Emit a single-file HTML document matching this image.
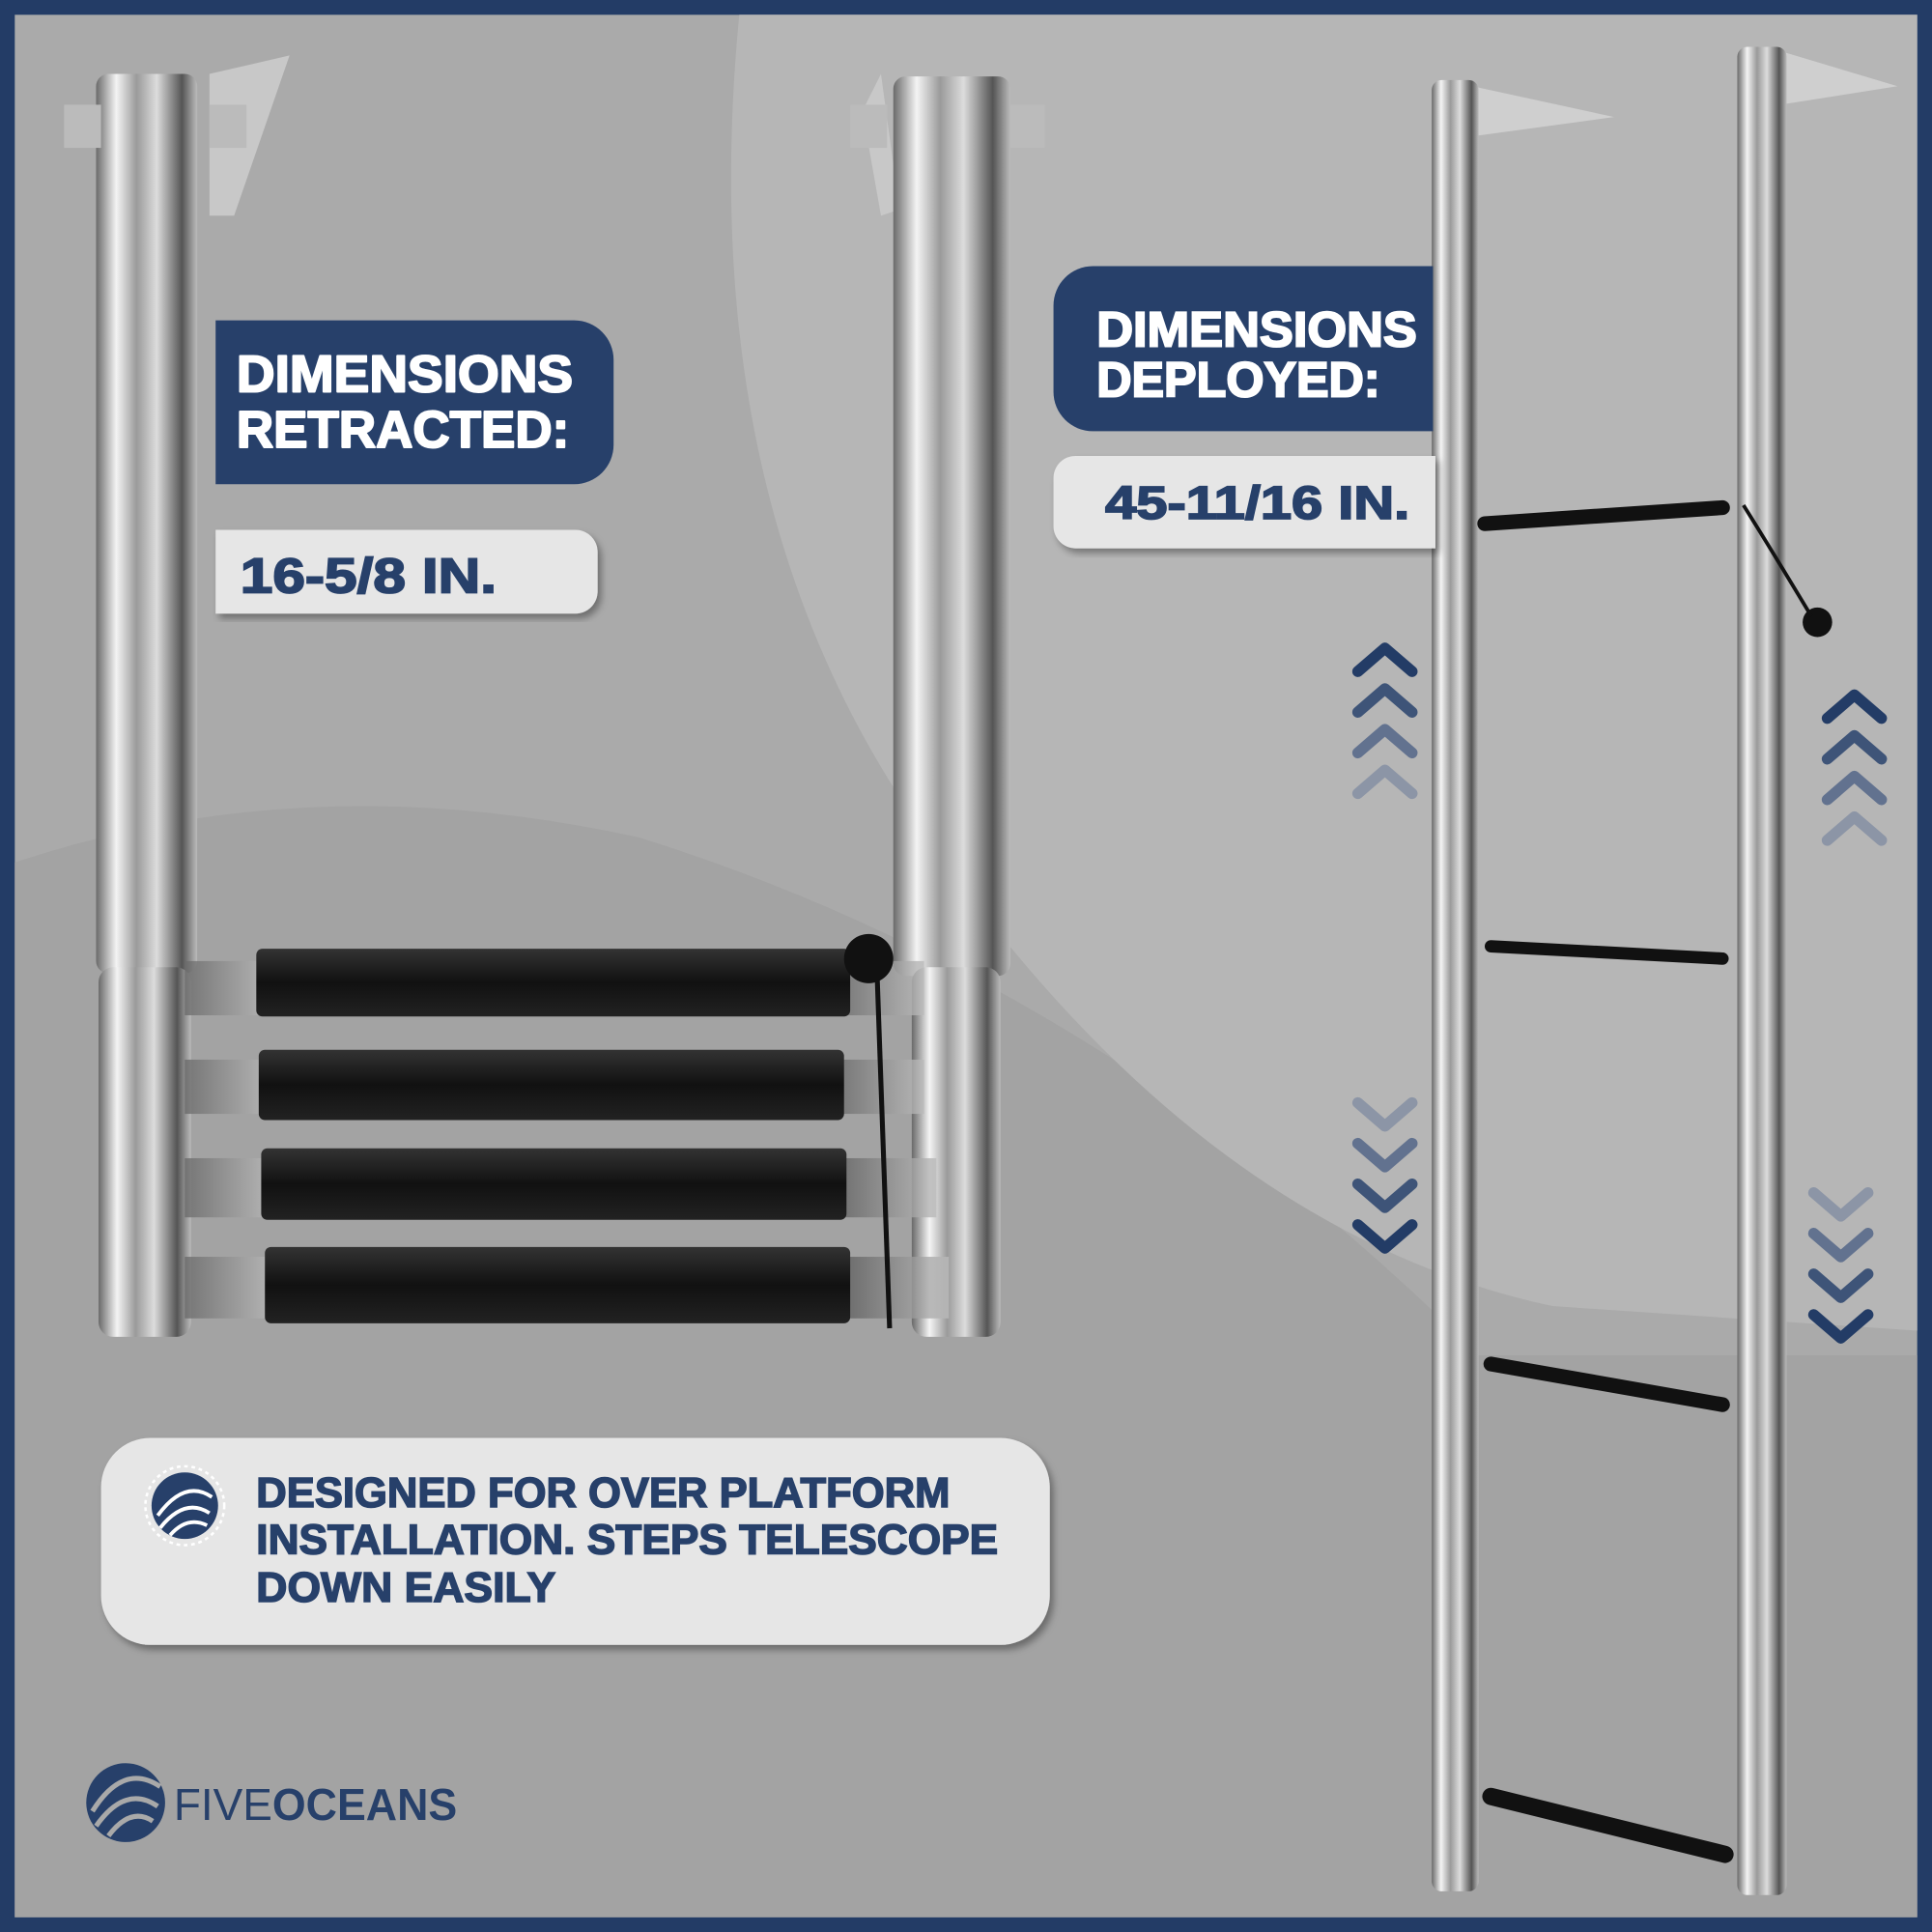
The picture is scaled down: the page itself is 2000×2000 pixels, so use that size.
<!DOCTYPE html>
<html><head><meta charset="utf-8"><style>html,body{margin:0;padding:0;background:#233c66}svg{display:block}</style></head>
<body>
<svg width="2000" height="2000" viewBox="0 0 1568 1568" xmlns="http://www.w3.org/2000/svg" font-family="Liberation Sans, sans-serif">
<defs>
<linearGradient id="m" x1="0" x2="1" y1="0" y2="0">
<stop offset="0" stop-color="#6a6a6a"/><stop offset="0.2" stop-color="#f4f4f4"/><stop offset="0.4" stop-color="#9a9a9a"/><stop offset="0.6" stop-color="#dcdcdc"/><stop offset="0.85" stop-color="#555"/><stop offset="1" stop-color="#bbb"/>
</linearGradient>
<linearGradient id="s" x1="0" x2="0" y1="0" y2="1">
<stop offset="0" stop-color="#333"/><stop offset="0.5" stop-color="#111"/><stop offset="1" stop-color="#222"/>
</linearGradient>
<filter id="sh"><feDropShadow dx="3" dy="4" stdDeviation="3" flood-opacity="0.35"/></filter>
</defs>
<rect x="0" y="0" width="1568" height="1568" fill="#233c66"/>
<rect x="12" y="12" width="1544" height="1544" fill="#aaaaaa"/>
<path d="M12 700 Q250 620 520 680 Q900 800 1200 1100 L1556 1100 L1556 1556 L12 1556 Z" fill="#a3a3a3"/>
<path d="M600 12 Q560 420 760 690 Q980 1000 1260 1060 L1556 1080 L1556 12 Z" fill="#b6b6b6"/>
<!-- left ladder -->
<g>
<polygon points="170,60 235,45 190,175 170,175" fill="#c8c8c8"/>
<polygon points="700,90 715,60 730,170 715,175" fill="#c8c8c8"/>
<rect x="78" y="60" width="82" height="730" rx="10" fill="url(#m)"/>
<rect x="725" y="62" width="95" height="730" rx="10" fill="url(#m)"/>
<rect x="52" y="85" width="30" height="35" fill="#bbb"/><rect x="170" y="85" width="30" height="35" fill="#bbb"/>
<rect x="690" y="85" width="30" height="35" fill="#bbb"/><rect x="820" y="85" width="28" height="35" fill="#bbb"/>
<rect x="80" y="785" width="75" height="300" rx="12" fill="url(#m)"/>
<rect x="740" y="785" width="72" height="300" rx="12" fill="url(#m)"/>
<rect x="150" y="780" width="600" height="44" fill="url(#m)" opacity="0.8"/>
<rect x="150" y="860" width="600" height="44" fill="url(#m)" opacity="0.8"/>
<rect x="150" y="940" width="610" height="48" fill="url(#m)" opacity="0.8"/>
<rect x="150" y="1020" width="620" height="50" fill="url(#m)" opacity="0.8"/>
<rect x="208" y="770" width="482" height="55" rx="5" fill="url(#s)"/>
<rect x="210" y="852" width="475" height="57" rx="5" fill="url(#s)"/>
<rect x="212" y="932" width="475" height="58" rx="5" fill="url(#s)"/>
<rect x="215" y="1012" width="475" height="62" rx="5" fill="url(#s)"/>
<circle cx="705" cy="778" r="20" fill="#111"/>
<path d="M712 795 L722 1078" stroke="#111" stroke-width="4"/>
</g>
<!-- right ladder -->
<g>
<polygon points="1195,70 1310,95 1200,110" fill="#cfcfcf"/>
<polygon points="1440,40 1540,70 1445,85" fill="#cfcfcf"/>
<rect x="1162" y="65" width="38" height="1470" rx="8" fill="url(#m)"/>
<rect x="1410" y="38" width="40" height="1500" rx="8" fill="url(#m)"/>
<path d="M1205 425 L1398 412" stroke="#111" stroke-width="12" stroke-linecap="round"/>
<path d="M1210 768 L1398 778" stroke="#111" stroke-width="10" stroke-linecap="round"/>
<path d="M1210 1107 L1398 1140" stroke="#111" stroke-width="12" stroke-linecap="round"/>
<path d="M1210 1458 L1400 1505" stroke="#111" stroke-width="14" stroke-linecap="round"/>
<circle cx="1475" cy="505" r="12" fill="#111"/>
<path d="M1415 410 Q1440 450 1470 500" stroke="#111" stroke-width="3" fill="none"/>
</g>
<!-- chevrons -->
<g fill="none" stroke-width="9" stroke-linecap="round" stroke-linejoin="round">
<path d="M1102 545 L1124 526 L1146 545" stroke="#233c66"/>
<path d="M1102 578 L1124 559 L1146 578" stroke="#3e5478"/>
<path d="M1102 611 L1124 592 L1146 611" stroke="#62728f"/>
<path d="M1102 644 L1124 625 L1146 644" stroke="#8c95a6"/>
<path d="M1483 583 L1505 564 L1527 583" stroke="#233c66"/>
<path d="M1483 616 L1505 597 L1527 616" stroke="#3e5478"/>
<path d="M1483 649 L1505 630 L1527 649" stroke="#62728f"/>
<path d="M1483 682 L1505 663 L1527 682" stroke="#8c95a6"/>
<path d="M1102 895 L1124 914 L1146 895" stroke="#8c95a6"/>
<path d="M1102 928 L1124 947 L1146 928" stroke="#62728f"/>
<path d="M1102 961 L1124 980 L1146 961" stroke="#3e5478"/>
<path d="M1102 994 L1124 1013 L1146 994" stroke="#233c66"/>
<path d="M1472 968 L1494 987 L1516 968" stroke="#8c95a6"/>
<path d="M1472 1001 L1494 1020 L1516 1001" stroke="#62728f"/>
<path d="M1472 1034 L1494 1053 L1516 1034" stroke="#3e5478"/>
<path d="M1472 1067 L1494 1086 L1516 1067" stroke="#233c66"/>
</g>
<!-- labels -->
<path d="M175 260 H466 A32 32 0 0 1 498 292 V361 A32 32 0 0 1 466 393 H175 Z" fill="#27406a"/>
<g font-weight="bold" stroke-linejoin="round" lengthAdjust="spacingAndGlyphs">
<text x="192" y="318" font-size="42" fill="#fff" stroke="#fff" stroke-width="1.6" textLength="273" lengthAdjust="spacingAndGlyphs">DIMENSIONS</text>
<text x="192" y="363" font-size="42" fill="#fff" stroke="#fff" stroke-width="1.6" textLength="270" lengthAdjust="spacingAndGlyphs">RETRACTED:</text>
</g>
<path d="M175 430 H467 A18 18 0 0 1 485 448 V480 A18 18 0 0 1 467 498 H175 Z" fill="#e6e6e6" filter="url(#sh)"/>
<text x="195" y="481" font-size="40" font-weight="bold" fill="#27406a" stroke="#27406a" stroke-width="1.4" textLength="208" lengthAdjust="spacingAndGlyphs">16-5/8 IN.</text>
<path d="M1163 216 H887 A32 32 0 0 0 855 248 V318 A32 32 0 0 0 887 350 H1163 Z" fill="#27406a"/>
<text x="890" y="281" font-size="40" font-weight="bold" fill="#fff" stroke="#fff" stroke-width="1.6" textLength="260" lengthAdjust="spacingAndGlyphs">DIMENSIONS</text>
<text x="890" y="322" font-size="40" font-weight="bold" fill="#fff" stroke="#fff" stroke-width="1.6" textLength="230" lengthAdjust="spacingAndGlyphs">DEPLOYED:</text>
<path d="M1165 370 H873 A18 18 0 0 0 855 388 V427 A18 18 0 0 0 873 445 H1165 Z" fill="#e6e6e6" filter="url(#sh)"/>
<text x="897" y="421" font-size="38" font-weight="bold" fill="#27406a" stroke="#27406a" stroke-width="1.4" textLength="247" lengthAdjust="spacingAndGlyphs">45-11/16 IN.</text>
<rect x="82" y="1167" width="770" height="168" rx="40" fill="#e6e6e6" filter="url(#sh)"/>
<circle cx="150" cy="1222" r="32" fill="none" stroke="#fff" stroke-width="2" stroke-dasharray="3 3"/>
<circle cx="150" cy="1222" r="27" fill="#27406a"/>
<path d="M128 1230 Q150 1200 172 1215 M130 1240 Q150 1215 170 1228 M138 1246 Q152 1230 168 1238" stroke="#fff" stroke-width="3" fill="none"/>
<g font-size="34" font-weight="bold" fill="#27406a" stroke="#27406a" stroke-width="1.2">
<text x="208" y="1223" textLength="563" lengthAdjust="spacingAndGlyphs">DESIGNED FOR OVER PLATFORM</text>
<text x="208" y="1261" textLength="602" lengthAdjust="spacingAndGlyphs">INSTALLATION. STEPS TELESCOPE</text>
<text x="208" y="1300" textLength="243" lengthAdjust="spacingAndGlyphs">DOWN EASILY</text>
</g>
<circle cx="102" cy="1463" r="32" fill="#27406a"/>
<path d="M75 1470 Q100 1430 130 1450 M78 1482 Q102 1448 128 1466 M88 1490 Q106 1466 124 1478" stroke="#a9a9a9" stroke-width="4" fill="none"/>
<text x="141" y="1477" font-size="36" fill="#27406a" textLength="80" lengthAdjust="spacingAndGlyphs">FIVE</text>
<text x="221" y="1477" font-size="36" font-weight="bold" fill="#27406a" textLength="150" lengthAdjust="spacingAndGlyphs">OCEANS</text>
</svg>
</body></html>
